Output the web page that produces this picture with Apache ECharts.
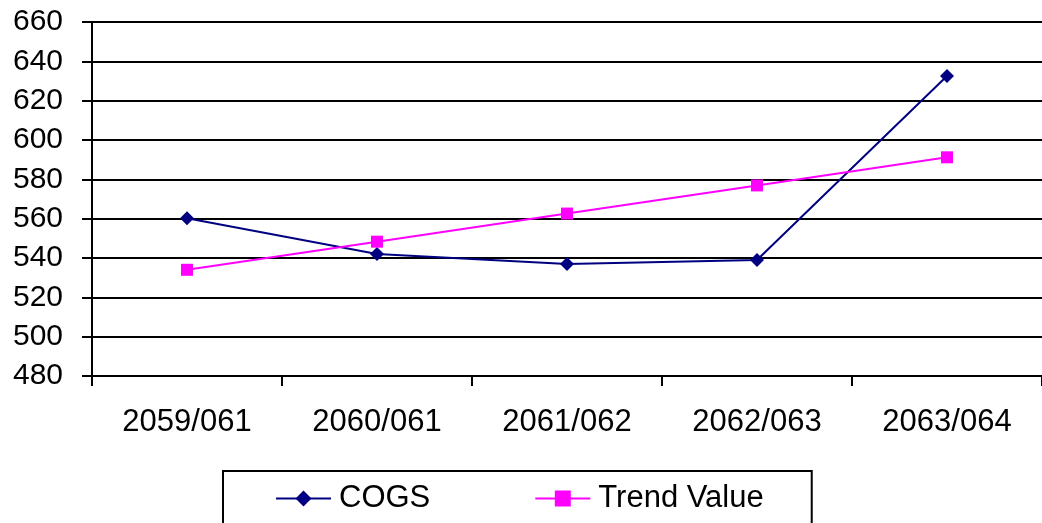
<!DOCTYPE html>
<html>
<head>
<meta charset="utf-8">
<script src="https://cdn.jsdelivr.net/npm/echarts@6/dist/echarts.min.js"></script>
<style>
html,body{margin:0;padding:0;background:#fff;}
#chart{width:1042px;height:523px;}
</style>
</head>
<body>
<div id="chart"></div>
<script>
const categories = ['2059/061', '2060/061', '2061/062', '2062/063', '2063/064'];
const cogs = [560.2, 542.0, 537.0, 539.0, 632.5];
const trendValue = [534.0, 548.3, 562.6, 576.9, 591.2];
const yMin = 480, yMax = 660, yStep = 20;

const FONT = '"Liberation Sans", Arial, sans-serif';
const chart = echarts.init(document.getElementById('chart'), null, {renderer: 'canvas'});
chart.setOption({
  animation: false,
  backgroundColor: '#ffffff',
  grid: {left: 92, top: 22, right: -5, bottom: 147, containLabel: false},
  xAxis: {
    type: 'category',
    data: categories,
    boundaryGap: true,
    axisLine: {show: true, lineStyle: {color: '#000', width: 2}},
    axisTick: {show: true, length: 10, inside: false, alignWithLabel: false, lineStyle: {color: '#000', width: 2}},
    axisLabel: {color: '#000', fontFamily: FONT, fontSize: 31, margin: 31},
    splitLine: {show: false}
  },
  yAxis: {
    type: 'value',
    min: yMin, max: yMax, interval: yStep,
    axisLine: {show: true, lineStyle: {color: '#000', width: 2}},
    axisTick: {show: true, length: 10, lineStyle: {color: '#000', width: 2}},
    axisLabel: {color: '#000', fontFamily: FONT, fontSize: 30, margin: 29},
    splitLine: {show: true, lineStyle: {color: '#000', width: 2}}
  },
  legend: {
    left: 223, top: 471,
    padding: [12, 48, 40, 52],
    borderColor: '#000', borderWidth: 2,
    itemWidth: 55, itemHeight: 20, itemGap: 104,
    textStyle: {color: '#000', fontFamily: FONT, fontSize: 31, padding: [0, 0, 0, 3]},
    data: ['COGS', 'Trend Value']
  },
  series: [
    {
      name: 'COGS', type: 'line', data: cogs,
      symbol: 'diamond', symbolSize: 14,
      itemStyle: {color: '#000080'},
      lineStyle: {color: '#000080', width: 2}
    },
    {
      name: 'Trend Value', type: 'line', data: trendValue,
      symbol: 'rect', symbolSize: 12,
      itemStyle: {color: '#FF00FF'},
      lineStyle: {color: '#FF00FF', width: 2}
    }
  ]
});
</script>
</body>
</html>
